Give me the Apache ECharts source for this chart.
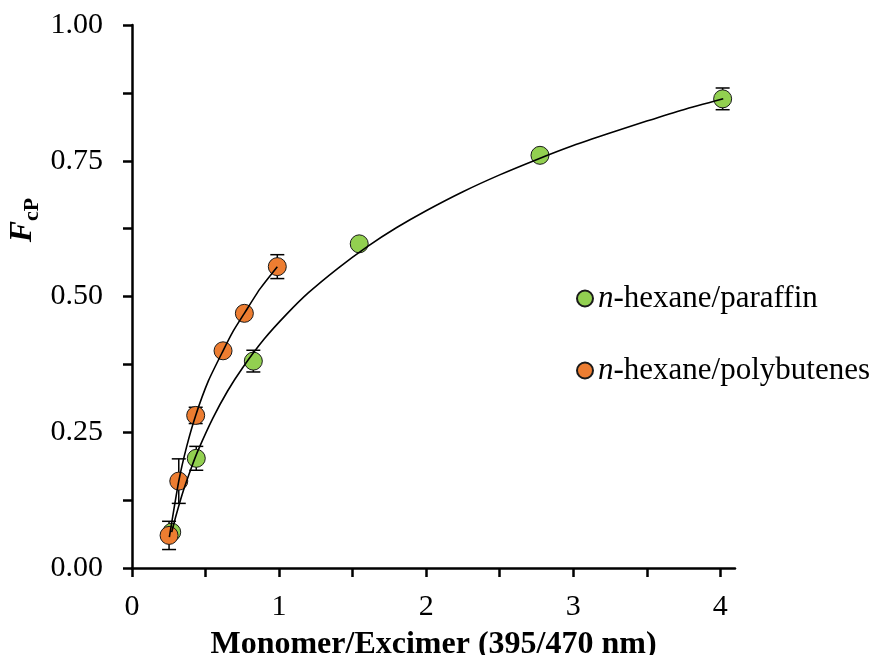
<!DOCTYPE html>
<html>
<head>
<meta charset="utf-8">
<script src="https://cdn.jsdelivr.net/npm/echarts@6/dist/echarts.min.js"></script>
<style>
  html, body { margin: 0; padding: 0; background: #fff; }
  #chart { width: 882px; height: 655px; }
</style>
</head>
<body>
<div id="chart"></div>
<script>
var paraffinX = [0.270, 0.437, 0.825, 1.545, 2.774, 4.016];
var paraffinY = [0.066, 0.202, 0.381, 0.597, 0.760, 0.864];
var paraffinErr = [0.010, 0.022, 0.020, 0.004, 0.004, 0.020];

var polyX = [0.252, 0.318, 0.433, 0.619, 0.764, 0.988];
var polyY = [0.060, 0.160, 0.281, 0.400, 0.469, 0.555];
var polyErr = [0.026, 0.041, 0.015, 0.004, 0.004, 0.022];

// fitted trend curves
var paraffinFitX = [0.27, 0.30, 0.35, 0.40, 0.45, 0.55, 0.65, 0.75, 0.90, 1.05, 1.20, 1.40, 1.60, 1.80, 2.00, 2.25, 2.50, 2.75, 3.00, 3.25, 3.50, 3.75, 4.02];
var paraffinFitY = [0.066, 0.097, 0.143, 0.182, 0.217, 0.276, 0.326, 0.368, 0.422, 0.467, 0.507, 0.552, 0.592, 0.627, 0.658, 0.693, 0.724, 0.752, 0.778, 0.801, 0.823, 0.844, 0.864];
var polyFitX = [0.254, 0.318, 0.372, 0.433, 0.520, 0.619, 0.690, 0.764, 0.870, 0.988];
var polyFitY = [0.057, 0.160, 0.224, 0.281, 0.345, 0.400, 0.437, 0.469, 0.514, 0.555];

var seriesNames = ['n-hexane/paraffin', 'n-hexane/polybutenes'];
var xTicks = [0, 0.5, 1, 1.5, 2, 2.5, 3, 3.5, 4];
var xLabels = [0, 1, 2, 3, 4];
var yTicks = [0, 0.125, 0.25, 0.375, 0.5, 0.625, 0.75, 0.875, 1];
var yLabels = [0, 0.25, 0.5, 0.75, 1];

var FONT = 'Liberation Serif, Times New Roman, serif';
var GREEN = '#92D050';
var ORANGE = '#ED7D31';

var myChart = echarts.init(document.getElementById('chart'), null, {renderer: 'canvas'});

function pairs(xs, ys) {
    var out = [];
    for (var i = 0; i < xs.length; i++) out.push([xs[i], ys[i]]);
    return out;
}
function errRows(xs, ys, es) {
    var out = [];
    for (var i = 0; i < xs.length; i++) out.push([xs[i], ys[i] - es[i], ys[i] + es[i]]);
    return out;
}

// vertical error bar with caps
function errorBarItem(params, api) {
    var x = api.value(0);
    var lo = api.coord([x, api.value(1)]);
    var hi = api.coord([x, api.value(2)]);
    var half = 7;
    var st = {stroke: '#000', lineWidth: 1.5};
    return {
        type: 'group',
        children: [
            {type: 'line', shape: {x1: lo[0], y1: lo[1], x2: hi[0], y2: hi[1]}, style: st},
            {type: 'line', shape: {x1: lo[0] - half, y1: lo[1], x2: lo[0] + half, y2: lo[1]}, style: st},
            {type: 'line', shape: {x1: hi[0] - half, y1: hi[1], x2: hi[0] + half, y2: hi[1]}, style: st}
        ]
    };
}

function fitLine(name, xs, ys) {
    return {
        name: name,
        type: 'line',
        data: pairs(xs, ys),
        smooth: 0.2,
        showSymbol: false,
        symbol: 'none',
        silent: true,
        z: 5,
        lineStyle: {color: '#000', width: 1.6}
    };
}

function points(name, xs, ys, color) {
    return {
        name: name,
        type: 'scatter',
        data: pairs(xs, ys),
        symbol: 'circle',
        symbolSize: 18,
        z: 4,
        itemStyle: {color: color, borderColor: '#1a1a1a', borderWidth: 1, opacity: 1}
    };
}

function errors(xs, ys, es) {
    return {
        type: 'custom',
        renderItem: errorBarItem,
        data: errRows(xs, ys, es),
        encode: {x: 0, y: [1, 2]},
        silent: true,
        z: 3
    };
}

var option = {
    backgroundColor: '#fff',
    animation: false,
    grid: {left: 132, right: 147, top: 25, bottom: 87, outerBoundsMode: 'none', containLabel: false},
    legend: {
        data: seriesNames,
        orient: 'vertical',
        left: 571,
        top: 278,
        padding: 5,
        itemGap: 41,
        itemWidth: 16,
        itemHeight: 16,
        icon: 'circle',
        formatter: function (name) {
            return '{i|n}' + name.slice(1);
        },
        textStyle: {
            fontFamily: FONT,
            fontSize: 31,
            color: '#000',
            rich: {
                i: {fontFamily: FONT, fontSize: 31, fontStyle: 'italic', color: '#000'}
            }
        }
    },
    xAxis: {
        type: 'value',
        min: 0,
        max: 4.1,
        name: 'Monomer/Excimer (395/470 nm)',
        nameLocation: 'middle',
        nameGap: 61,
        nameTextStyle: {fontFamily: FONT, fontSize: 32, fontWeight: 'bold', color: '#000'},
        splitLine: {show: false},
        axisLine: {onZero: false, lineStyle: {color: '#000', width: 2.5}},
        axisTick: {show: true, length: 9, customValues: xTicks, lineStyle: {color: '#000', width: 2.5}},
        axisLabel: {
            customValues: xLabels,
            margin: 24,
            fontFamily: FONT,
            fontSize: 30,
            color: '#000',
            formatter: function (v) { return String(v); }
        }
    },
    yAxis: {
        type: 'value',
        min: 0,
        max: 1,
        splitLine: {show: false},
        axisLine: {show: true, onZero: false, lineStyle: {color: '#000', width: 2.5}},
        axisTick: {show: true, length: 9, customValues: yTicks, lineStyle: {color: '#000', width: 2.5}},
        axisLabel: {
            customValues: yLabels,
            margin: 29,
            fontFamily: FONT,
            fontSize: 30,
            color: '#000',
            formatter: function (v) { return v.toFixed(2); }
        }
    },
    // y axis title F_cP, drawn rotated
    graphic: [{
        type: 'text',
        x: 23,
        y: 220,
        rotation: Math.PI / 2,
        style: {
            text: '{f|F}{s|cP}',
            align: 'center',
            verticalAlign: 'middle',
            rich: {
                f: {fontFamily: FONT, fontSize: 32, fontWeight: 'bold', fontStyle: 'italic', lineHeight: 40, fill: '#000'},
                s: {fontFamily: FONT, fontSize: 22, fontWeight: 'bold', lineHeight: 22, verticalAlign: 'bottom', fill: '#000'}
            }
        }
    }],
    series: [
        errors(paraffinX, paraffinY, paraffinErr),
        errors(polyX, polyY, polyErr),
        points(seriesNames[0], paraffinX, paraffinY, GREEN),
        points(seriesNames[1], polyX, polyY, ORANGE),
        fitLine('fit paraffin', paraffinFitX, paraffinFitY),
        fitLine('fit polybutenes', polyFitX, polyFitY)
    ]
};

myChart.setOption(option);
</script>
</body>
</html>
